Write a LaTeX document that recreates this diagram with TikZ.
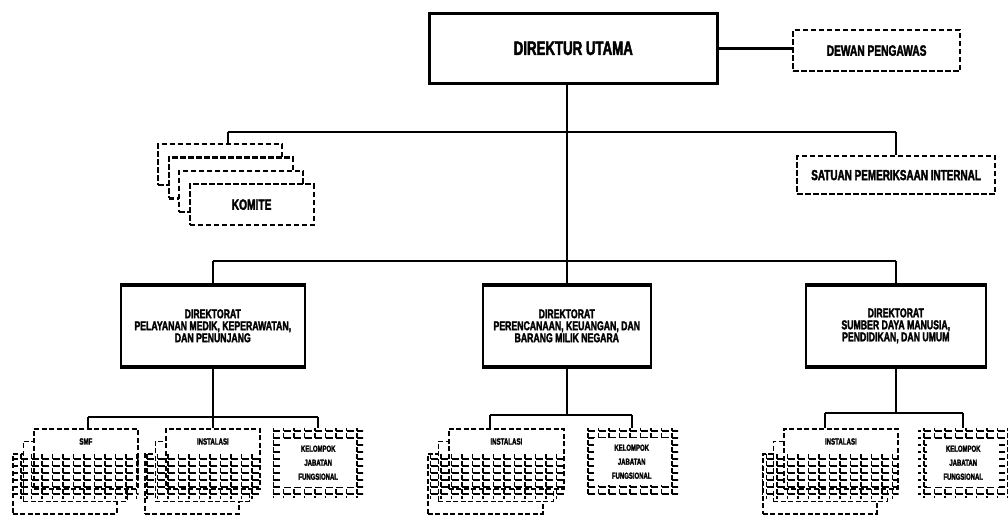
\documentclass[tikz,border=0pt]{standalone}
\usepackage{fontspec}
\setmainfont{Liberation Sans}
\newfontfamily\nar[FakeStretch=0.68,BoldFeatures={FakeBold=2.2}]{Liberation Sans}
\usetikzlibrary{patterns,calc}
\pgfdeclarepatternformonly{egrid}{\pgfqpoint{-0.9pt}{-0.9pt}}{\pgfqpoint{9.6pt}{6.1pt}}{\pgfqpoint{10.5pt}{7pt}}{%
  \pgfsetlinewidth{1.7pt}%
  \pgfpathmoveto{\pgfqpoint{0pt}{0pt}}\pgfpathlineto{\pgfqpoint{7.4pt}{0pt}}%
  \pgfpathmoveto{\pgfqpoint{0pt}{0pt}}\pgfpathlineto{\pgfqpoint{0pt}{4.8pt}}%
  \pgfusepath{stroke}}
% #1 prefix, #2 x of front box, #3 width, #4 label
\newcommand\orgstack[4]{%
  \node[sbox,minimum width=#3] (#1C) at (#2-21,453) {};
  \node[sbox,minimum width=#3] (#1B) at (#2-10.5,440.5) {};
  \node[sbox,minimum width=#3] (#1A) at (#2,428) {};
  \node[smalltxt] (#1T) at ($(#1A.north)+(0,13.5)$) {#4};
  \fill[pattern=egrid] (#1C.north west) rectangle ($(#1A.south east)+(0,9)$);
}
\begin{document}
\begin{tikzpicture}[x=1pt,y=-1pt,
  solidbox/.style={draw,line width=2.6pt,fill=white,inner sep=0pt,anchor=north west},
  dbox/.style={draw,line width=2.2pt,dash pattern=on 5.5pt off 2.5pt,fill=white,inner sep=0pt,anchor=north west},
  sbox/.style={draw,line width=1.7pt,dash pattern=on 5pt off 2.5pt,fill=white,inner sep=0pt,anchor=north west,minimum height=60pt},
  dirbox/.style={draw,line width=1.6pt,fill=white,inner sep=0pt,anchor=north west,align=center,minimum height=80pt,font=\nar\bfseries\fontsize{12.8}{12}\selectfont},
  conn/.style={line width=2.6pt},
  stem/.style={line width=1.6pt},
  bigtxt/.style={font=\nar\bfseries\fontsize{19.5}{21}\selectfont},
  midtxt/.style={font=\nar\bfseries\fontsize{15}{17}\selectfont},
  smalltxt/.style={font=\nar\bfseries\fontsize{9}{14}\selectfont,align=center,inner sep=0pt},
  kjf/.style={pattern=egrid,inner sep=0pt,anchor=north west,minimum width=90pt,minimum height=69pt},
  kjftxt/.style={fill=white,inner sep=0pt,minimum width=72pt,minimum height=48pt,font=\nar\bfseries\fontsize{8.8}{14}\selectfont,align=center}
]
\useasboundingbox (0,0) rectangle (1008,515);
\fill[white] (0,0) rectangle (1008,515);

% top level
\node[solidbox,bigtxt,minimum width=288pt,minimum height=70pt] (du) at (428,12) {DIREKTUR UTAMA};
\node[dbox,midtxt,minimum width=167pt,minimum height=41pt] (dp) at (792,29) {DEWAN PENGAWAS};
\node[dbox,font=\nar\bfseries\fontsize{14.6}{16}\selectfont,minimum width=198pt,minimum height=38pt] (spi) at (796,155) {SATUAN PEMERIKSAAN INTERNAL};

% komite stack
\node[dbox,minimum width=124pt,minimum height=41pt] (k1) at (157,143) {};
\node[dbox,minimum width=124pt,minimum height=41pt] (k2) at (167.5,156.3) {};
\node[dbox,minimum width=124pt,minimum height=41pt] (k3) at (178,169.6) {};
\node[dbox,midtxt,minimum width=124pt,minimum height=41pt] (k4) at (188.5,183) {KOMITE};

% directorates
\node[dirbox,minimum width=184pt] (ld) at (120,285) {DIREKTORAT\\PELAYANAN MEDIK, KEPERAWATAN,\\DAN PENUNJANG};
\node[dirbox,minimum width=168pt] (md) at (482,285) {DIREKTORAT\\PERENCANAAN, KEUANGAN, DAN\\BARANG MILIK NEGARA};
\node[dirbox,minimum width=180pt] (rd) at (805,285) {DIREKTORAT\\SUMBER DAYA MANUSIA,\\PENDIDIKAN, DAN UMUM};
\foreach \d in {ld,md,rd}{
  \draw[line width=4pt] (\d.north west) -- (\d.north east);
  \draw[line width=4pt] (\d.south west) -- (\d.south east);
}

% connectors top
\coordinate (kj) at (228,132);
\coordinate (dl) at (212,261);
\draw[conn] (du.east) -- (du.east -| dp.west);
\draw[stem] (du.south -| md.north) -- (md.north);
\draw[conn] (kj) -- (kj -| spi.north);
\draw[stem] (kj) -- (kj |- k1.north);
\draw[stem] (kj -| spi.north) -- (spi.north);
\draw[conn] (dl -| ld.north) -- (dl -| rd.north);
\draw[stem] (dl -| ld.north) -- (ld.north);
\draw[stem] (dl -| rd.north) -- (rd.north);

% bottom groups
\orgstack{sa}{33}{104}{SMF}
\orgstack{ia}{165}{94}{INSTALASI}
\orgstack{ib}{448}{115}{INSTALASI}
\orgstack{ic}{783}{114}{INSTALASI}
\node[kjf] (fa) at (273,428) {};
\node[kjftxt] (fat) at (fa.center) {KELOMPOK\\JABATAN\\FUNGSIONAL};
\node[kjf,minimum width=93pt,minimum height=67pt] (fb) at (585,428) {};
\node[kjftxt,minimum width=75pt,minimum height=47pt] (fbt) at (fb.center) {KELOMPOK\\JABATAN\\FUNGSIONAL};
\node[kjf] (fc) at (918,428) {};
\node[kjftxt] (fct) at (fc.center) {KELOMPOK\\JABATAN\\FUNGSIONAL};

\coordinate (ga) at (88,417);
\coordinate (gb) at (490,415);
\coordinate (gc) at (825,413);
\draw[conn] (ga) -- (ga -| fa.north);
\draw[stem] (ga) -- (ga |- saA.north);
\draw[stem] (ld.south) -- (ld.south |- iaA.north);
\draw[stem] (ga -| fa.north) -- (fa.north);
\draw[conn] (gb) -- (gb -| fb.north);
\draw[stem] (gb) -- (gb |- ibA.north);
\draw[stem] (md.south) -- (md.south |- gb);
\draw[stem] (gb -| fb.north) -- (fb.north);
\draw[conn] (gc) -- (gc -| fc.north);
\draw[stem] (gc) -- (gc |- icA.north);
\draw[stem] (rd.south) -- (rd.south |- gc);
\draw[stem] (gc -| fc.north) -- (fc.north);
\end{tikzpicture}
\end{document}
